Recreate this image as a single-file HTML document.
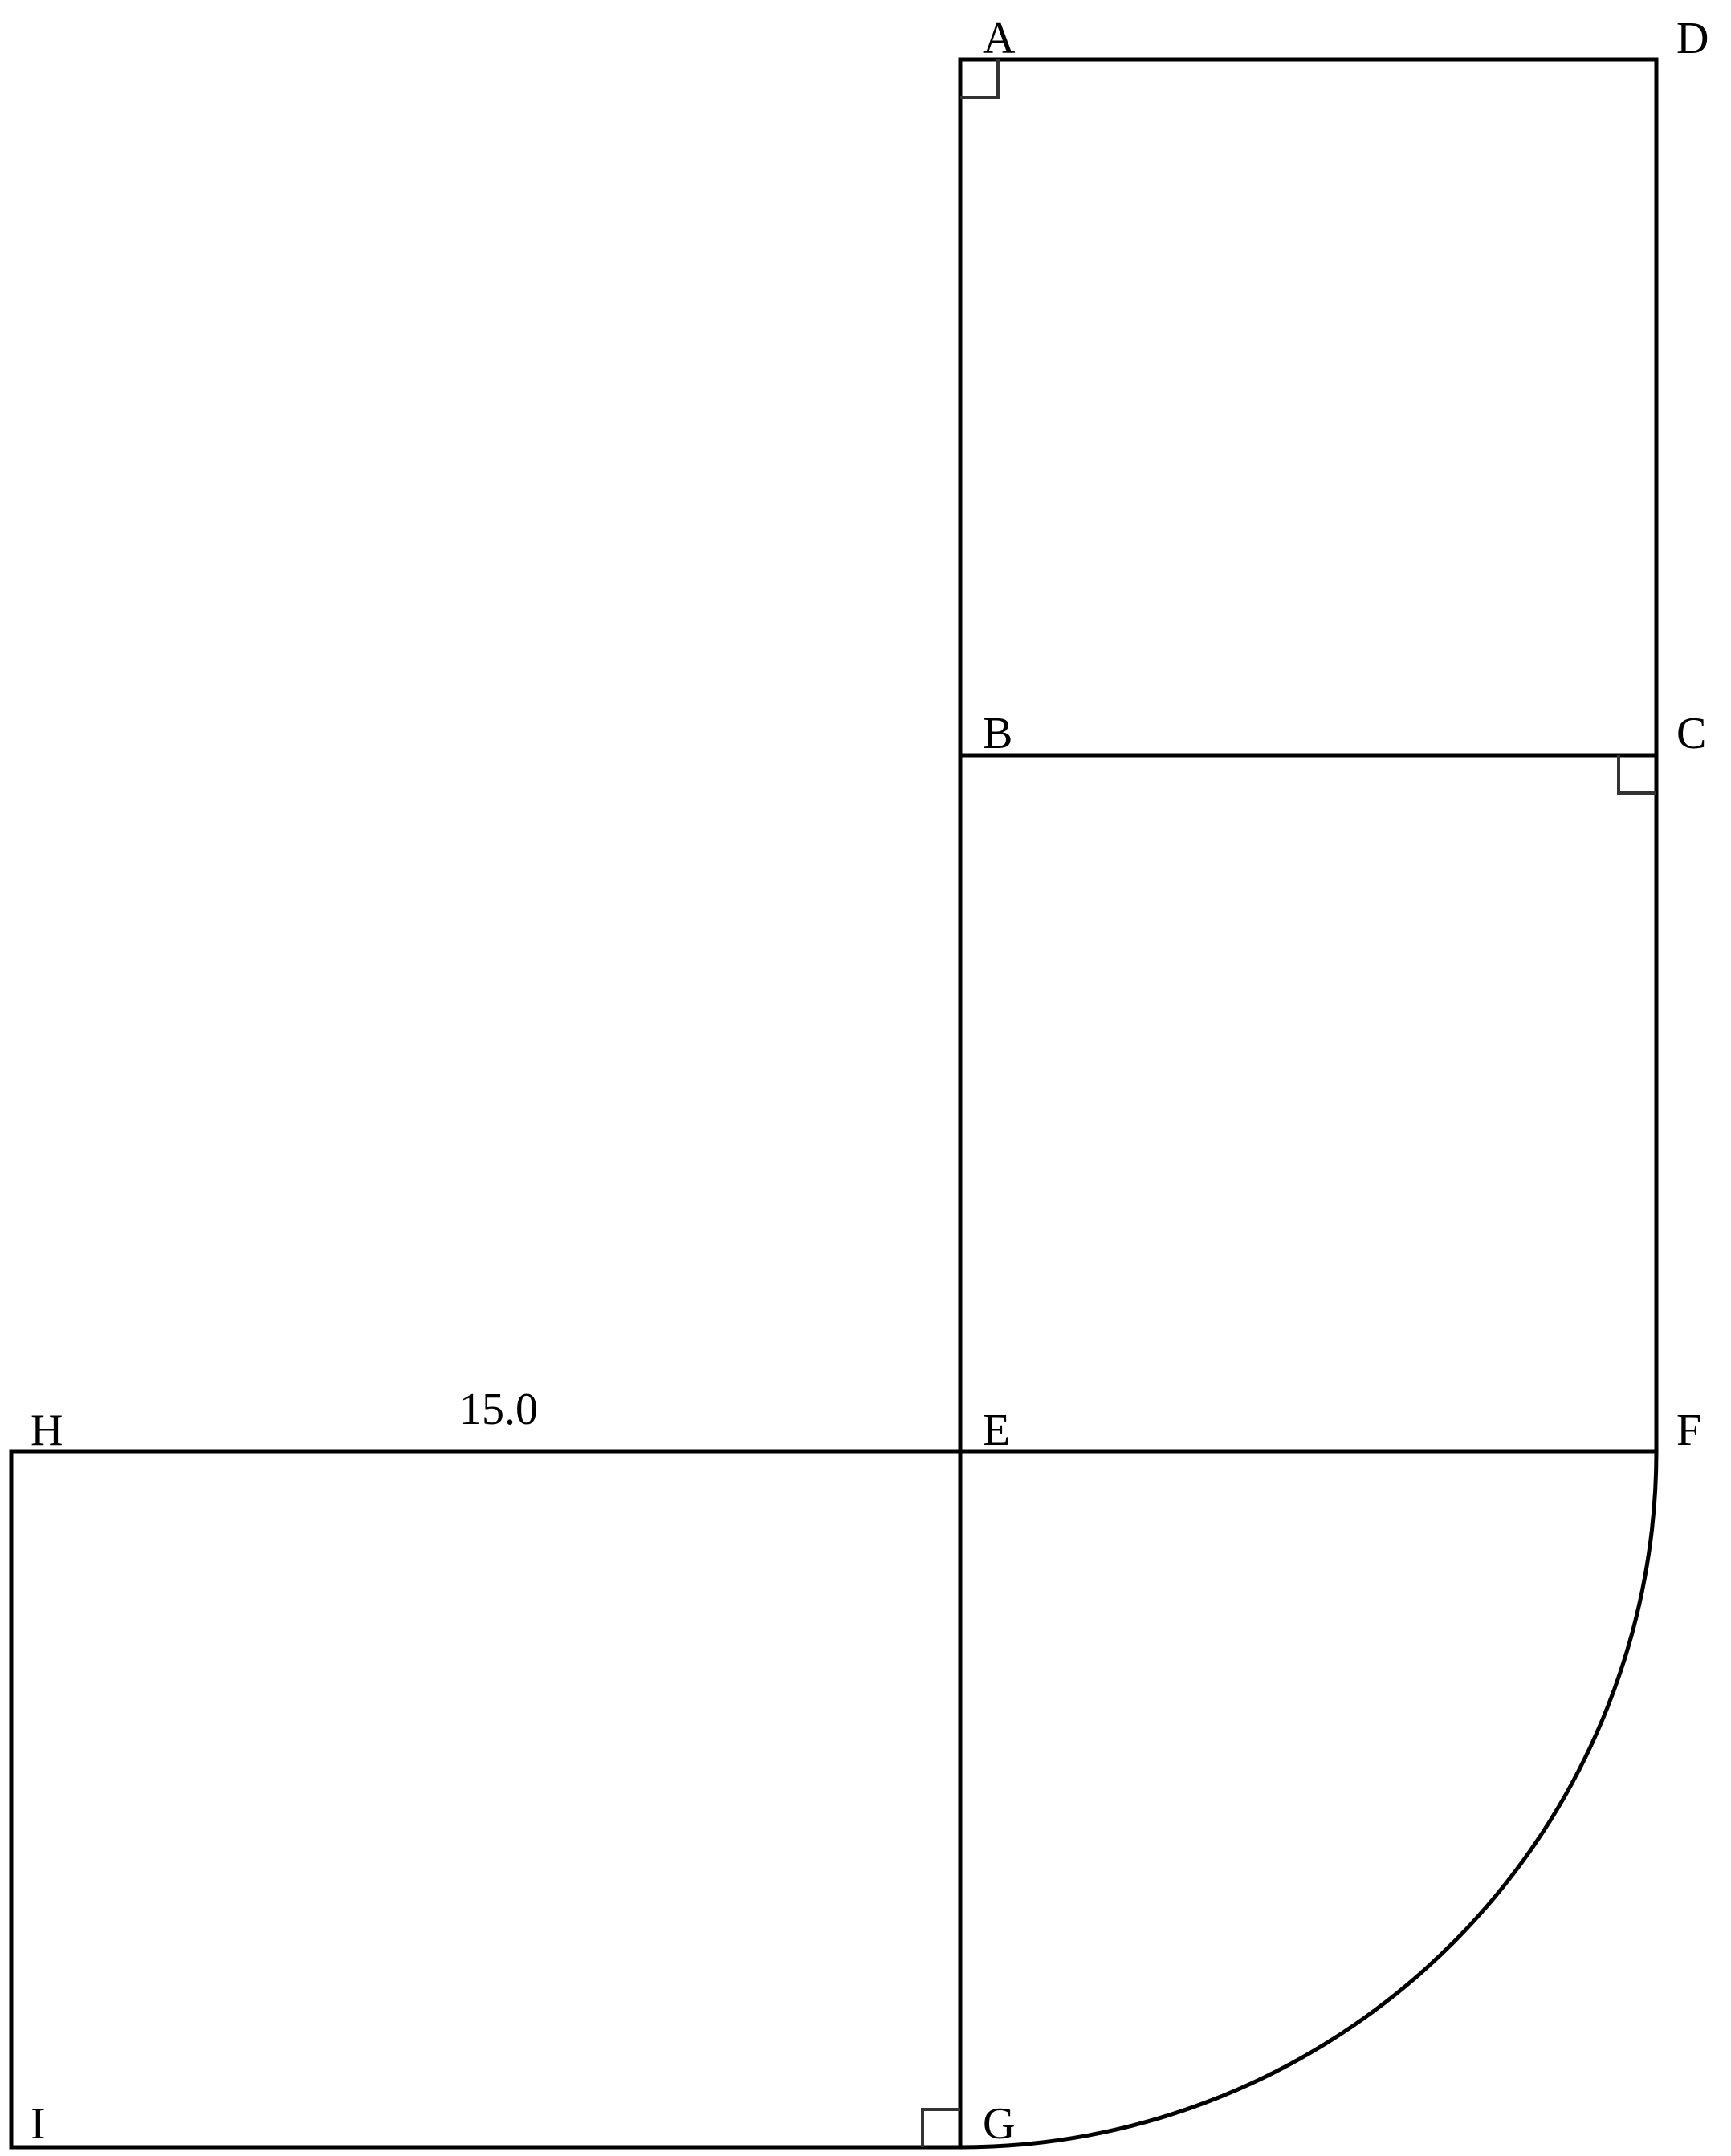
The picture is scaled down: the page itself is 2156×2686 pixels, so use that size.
<!DOCTYPE html>
<html><head><meta charset="utf-8"><style>html,body{margin:0;padding:0;background:#fff}svg{display:block}</style></head>
<body>
<svg width="2156" height="2686" viewBox="0 0 2156 2686" xmlns="http://www.w3.org/2000/svg">
<g fill="none" stroke="#000" stroke-width="5">
<rect x="1196" y="74" width="867" height="867"/>
<rect x="1196" y="941" width="867" height="867"/>
<rect x="14" y="1808" width="1182" height="867"/>
<path d="M1196 1808 L2063 1808 A867 867 0 0 1 1196 2675 Z"/>
</g>
<g fill="none" stroke="#333" stroke-width="4">
<path d="M1196 121 H1243 V74"/>
<path d="M2063 988 H2016 V941"/>
<path d="M1196 2628 H1149 V2675"/>
</g>
<g font-family="Liberation Serif, serif" font-size="56" fill="#000">
<text x="1224" y="66">A</text>
<text x="2088" y="66">D</text>
<text x="1224" y="932">B</text>
<text x="2088" y="932">C</text>
<text x="1224" y="1800">E</text>
<text x="2088" y="1800">F</text>
<text x="38" y="1800">H</text>
<text x="38" y="2664">I</text>
<text x="1224" y="2664">G</text>
<text x="572" y="1774">15.0</text>
</g>
</svg>
</body></html>
